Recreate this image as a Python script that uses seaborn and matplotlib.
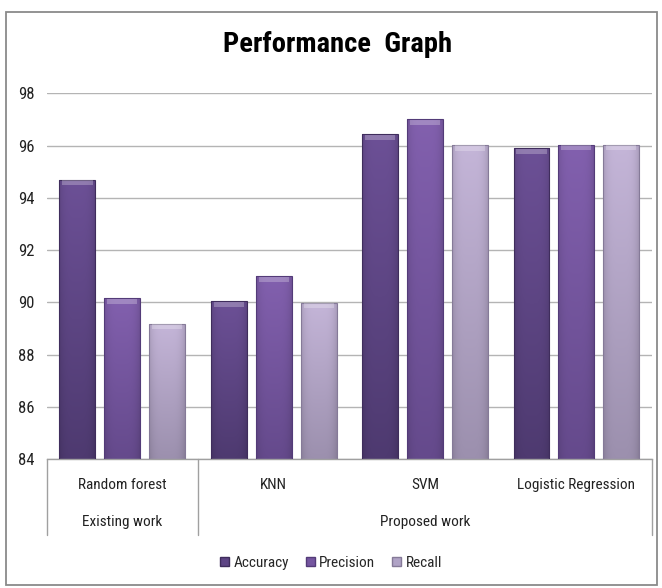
import numpy as np
import pandas as pd
import matplotlib
matplotlib.use("Agg")
import matplotlib.pyplot as plt
from matplotlib import font_manager as fm
from matplotlib.patches import Rectangle, Patch
from matplotlib.colors import LinearSegmentedColormap
import matplotlib.transforms as mtransforms
import seaborn as sns

# ---- data ----
models = ["Random forest", "KNN", "SVM", "Logistic Regression"]
groups = ["Existing work", "Proposed work"]
group_sizes = [1, 3]
metrics = ["Accuracy", "Precision", "Recall"]
accuracy = [94.7, 90.04, 96.44, 95.89]
precision = [90.15, 91.0, 97.0, 96.04]
recall = [89.18, 89.99, 96.03, 96.04]
yticks = [84, 86, 88, 90, 92, 94, 96, 98]

df = pd.DataFrame({
    "Model": models * 3,
    "Metric": [m for m in metrics for _ in models],
    "Value": accuracy + precision + recall,
})

grad = {
    "Accuracy": ("#6c5096", "#4e3a70"),
    "Precision": ("#8260ae", "#654a8c"),
    "Recall": ("#c4b5d8", "#9c90ae"),
}
mid = {"Accuracy": "#5e4585", "Precision": "#7556a0", "Recall": "#b0a3c6"}
edge = {"Accuracy": "#3f2d5c", "Precision": "#533b78", "Recall": "#857a98"}

sns.set_theme(style="white")

installed = {f.name for f in fm.fontManager.ttflist}
fam = None
for cand in ["Liberation Sans Narrow", "Roboto Condensed", "DejaVu Sans Condensed",
             "Open Sans Condensed", "Noto Sans Condensed"]:
    if cand in installed:
        fam = cand
        break
size_scale = 1.0
if fam is None:
    fam = "Liberation Sans"
    size_scale = 0.85
plt.rcParams["font.family"] = [fam, "DejaVu Sans"]

fs = 11 * size_scale

fig = plt.figure(figsize=(6.62, 5.88), dpi=100)
ax = fig.add_axes([0.0705, 0.2194, 0.9145, 0.6219])

sns.barplot(data=df, x="Model", y="Value", hue="Metric", order=models,
            hue_order=metrics, palette=[mid[m] for m in metrics],
            width=0.89, gap=0.2, ax=ax, legend=False, zorder=3)

# gradient fill for each bar
for i, container in enumerate(ax.containers):
    m = metrics[i]
    cmap = LinearSegmentedColormap.from_list(m, [grad[m][1], grad[m][0]])
    for p in container:
        x0 = p.get_x()
        w = p.get_width()
        top = p.get_y() + p.get_height()
        p.set_facecolor("none")
        p.set_edgecolor(edge[m])
        p.set_linewidth(0.8)
        hx = np.linspace(-1, 1, 40)
        shade = 1 - 0.12 * hx ** 4
        img = cmap(np.linspace(0, 1, 100))[:, None, :3] * shade[None, :, None]
        im = ax.imshow(img, extent=[x0, x0 + w, 84, top], origin="lower",
                       aspect="auto", zorder=2.5, interpolation="bilinear")
        im.set_clip_path(p)
        ax.add_patch(Rectangle((x0 + w * 0.08, top - 0.22), w * 0.84, 0.2,
                               facecolor="white", alpha=0.25, lw=0, zorder=3.2))

ax.set_xlim(-0.5, 3.5)
ax.set_ylim(84, 98)

ax.set_yticks(yticks)
ax.yaxis.grid(True, color="#b4b4b4", linewidth=1.0, zorder=0)
ax.set_axisbelow(True)
for s in ["top", "right", "left"]:
    ax.spines[s].set_visible(False)
ax.spines["bottom"].set_color("#a0a0a0")
ax.spines["bottom"].set_linewidth(1.0)
ax.tick_params(axis="y", length=0, pad=9, labelsize=12 * size_scale,
               labelcolor="#222222")
ax.set_xticks([])
ax.set_xlabel("")
ax.set_ylabel("")

trans = mtransforms.blended_transform_factory(ax.transData, ax.transAxes)
for i, name in enumerate(models):
    ax.text(i, -0.071, name, transform=trans, ha="center", va="center",
            fontsize=fs, color="#222222")
start = 0
bounds = [-0.5]
for gname, n in zip(groups, group_sizes):
    c = start + (n - 1) / 2
    ax.text(c, -0.172, gname, transform=trans, ha="center", va="center",
            fontsize=fs, color="#222222")
    start += n
    bounds.append(start - 0.5)
for b in bounds:
    ax.plot([b, b], [0, -0.208], transform=trans, color="#a0a0a0",
            lw=1.0, clip_on=False)

fig.text(0.51, 1 - 44 / 588, "Performance  Graph", ha="center", va="center",
         fontsize=20.5 * size_scale, fontweight="bold", color="black")

handles = [Patch(facecolor=mid[m], edgecolor=edge[m], label=m) for m in metrics]
fig.legend(handles=handles, loc="center", bbox_to_anchor=(0.5, 1 - 563 / 588),
           ncol=3, frameon=False, fontsize=fs, handlelength=0.6,
           handleheight=0.6, handletextpad=0.3, columnspacing=1.1)

fig.patches.append(Rectangle((6 / 662, 3 / 588), 651 / 662, 573 / 588,
                             transform=fig.transFigure, fill=False,
                             edgecolor="#8a8a8a", linewidth=1.3))

fig.savefig("out.png", dpi=100)
